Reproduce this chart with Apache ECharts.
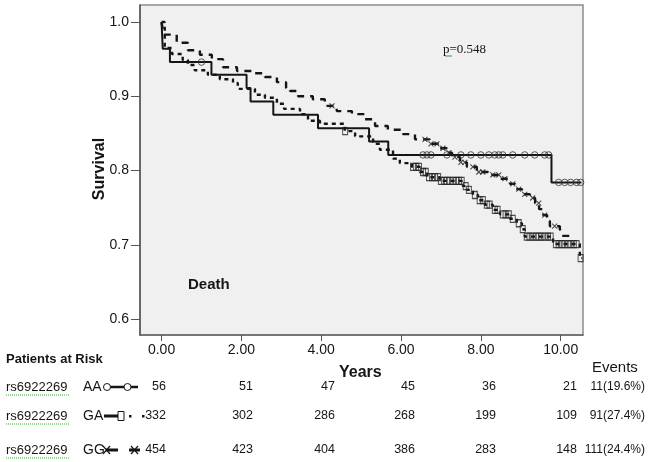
<!DOCTYPE html>
<html>
<head>
<meta charset="utf-8">
<script src="https://cdn.jsdelivr.net/npm/echarts@6/dist/echarts.min.js"></script>
<style>
html,body{margin:0;padding:0;background:#fff;}
#chart{width:653px;height:462px;}
</style>
</head>
<body>
<div id="chart"></div>
<script>
// ---- data ----
const xTicks = [0, 2, 4, 6, 8, 10];
const yTicks = [0.6, 0.7, 0.8, 0.9, 1.0];

// AA (solid, circles) – time of each drop and survival after it
const aaTime = [0, 0.03, 0.21, 1.25, 2.13, 2.23, 2.80, 3.92, 5.20, 5.68, 9.77, 10.52];
const aaSurv = [1, 0.964, 0.946, 0.929, 0.911, 0.893, 0.875, 0.857, 0.839, 0.821, 0.784, 0.784];
const aaCensor = [1.0, 6.55, 6.65, 6.75, 7.15, 7.5, 7.75, 8.0, 8.2, 8.35, 8.45, 8.55, 8.8, 9.1, 9.35, 9.6, 9.7, 9.95, 10.1, 10.25, 10.4, 10.5];

// GA (short dashes, squares)
const gaTime = [0, 0.08, 0.26, 0.53, 0.66, 0.83, 1.16, 1.46, 1.79, 1.91, 2.34, 2.59, 2.89, 3.07, 3.47, 3.67, 3.97, 4.59, 4.85, 5.30, 5.47, 5.80, 5.97, 6.27, 6.47, 6.65, 6.97, 7.55, 7.65, 7.80, 7.93, 8.10, 8.30, 8.48, 8.73, 8.90, 9.03, 9.10, 9.81, 10.48, 10.54];
const gaSurv = [1, 0.965, 0.957, 0.949, 0.942, 0.935, 0.929, 0.923, 0.918, 0.910, 0.902, 0.898, 0.890, 0.883, 0.876, 0.867, 0.863, 0.853, 0.846, 0.836, 0.828, 0.816, 0.810, 0.805, 0.798, 0.791, 0.786, 0.779, 0.774, 0.767, 0.760, 0.754, 0.747, 0.741, 0.735, 0.729, 0.721, 0.711, 0.701, 0.682, 0.682];
const gaCensor = [4.6, 6.3, 6.38, 6.45, 6.55, 6.62, 6.7, 6.78, 6.85, 6.93, 7.0, 7.08, 7.15, 7.22, 7.3, 7.38, 7.45, 7.52, 7.62, 7.7, 7.85, 7.97, 8.05, 8.15, 8.22, 8.35, 8.42, 8.55, 8.62, 8.7, 8.8, 8.95, 9.05, 9.15, 9.22, 9.3, 9.38, 9.45, 9.52, 9.6, 9.68, 9.75, 9.88, 9.95, 10.03, 10.1, 10.18, 10.25, 10.33, 10.4, 10.5];

// GG (long dashes, crosses)
const ggTime = [0, 0.05, 0.38, 0.66, 0.96, 1.26, 1.54, 1.89, 2.26, 2.59, 2.89, 3.12, 3.22, 3.42, 3.79, 4.09, 4.39, 4.77, 5.10, 5.35, 5.67, 6.05, 6.35, 6.72, 6.98, 7.15, 7.28, 7.48, 7.65, 7.90, 8.18, 8.48, 8.73, 8.86, 9.03, 9.23, 9.36, 9.46, 9.56, 9.66, 9.73, 9.98, 10.03, 10.36];
const ggSurv = [1, 0.983, 0.972, 0.962, 0.956, 0.950, 0.939, 0.934, 0.931, 0.926, 0.919, 0.911, 0.907, 0.900, 0.896, 0.887, 0.880, 0.876, 0.869, 0.860, 0.855, 0.849, 0.842, 0.836, 0.830, 0.824, 0.818, 0.811, 0.805, 0.798, 0.794, 0.789, 0.782, 0.775, 0.768, 0.763, 0.756, 0.748, 0.740, 0.732, 0.725, 0.721, 0.712, 0.712];
const ggCensor = [4.27, 6.6, 6.75, 6.9, 7.05, 7.2, 7.35, 7.5, 7.6, 7.8, 7.95, 8.05, 8.3, 8.45, 8.6, 8.8, 8.95, 9.1, 9.3, 9.45, 9.6, 9.85];

const riskAA = [56, 51, 47, 45, 36, 21];
const riskGA = [332, 302, 286, 268, 199, 109];
const riskGG = [454, 423, 404, 386, 283, 148];
const events = ['11(19.6%)', '91(27.4%)', '111(24.4%)'];
const rowLabels = ['AA', 'GA', 'GG'];
const snpLabel = 'rs6922269';
const pText = 'p=0.548';

// ---- helpers ----
function pairs(t, s) { return t.map((v, i) => [v, s[i]]); }
function survAt(t, s, x) {
  let v = s[0];
  for (let i = 0; i < t.length; i++) { if (t[i] <= x) v = s[i]; }
  return v;
}
function censorPts(c, t, s) { return c.map(x => [x, survAt(t, s, x)]); }

const chart = echarts.init(document.getElementById('chart'));
const SANS = '"Liberation Sans", Arial, sans-serif';
const INK = '#151515';
const crossPath = 'path://M0,0L10,10M10,0L0,10';

const rowY = [387, 416, 450];
const colRight = [166, 253, 335, 415, 496, 577];
const risks = [riskAA, riskGA, riskGG];

const graphics = [];
// Plot texts
graphics.push({type: 'text', style: {x: 188, y: 285, text: 'Death', font: 'bold 15px ' + SANS, fill: INK, textVerticalAlign: 'middle'}});
graphics.push({type: 'text', style: {x: 443, y: 50, text: pText, font: '13px "Liberation Serif", "Times New Roman", serif', fill: INK, textVerticalAlign: 'middle'}});
graphics.push({type: 'line', shape: {x1: 445, y1: 56, x2: 452, y2: 56}, style: {stroke: '#3a9a3a', lineWidth: 1}});
graphics.push({type: 'text', style: {x: 6, y: 359, text: 'Patients at Risk', font: 'bold 13px ' + SANS, fill: INK, textVerticalAlign: 'middle'}});
graphics.push({type: 'text', style: {x: 592, y: 368, text: 'Events', font: '15px ' + SANS, fill: INK, textVerticalAlign: 'middle'}});
graphics.push({type: 'text', style: {x: 339, y: 373, text: 'Years', font: 'bold 16px ' + SANS, fill: INK, textVerticalAlign: 'middle'}});
graphics.push({type: 'text', rotation: Math.PI / 2, x: 100, y: 169, style: {x: 0, y: 0, text: 'Survival', font: 'bold 16px ' + SANS, fill: INK, textAlign: 'center', textVerticalAlign: 'middle'}});

for (let r = 0; r < 3; r++) {
  const y = rowY[r];
  graphics.push({type: 'text', style: {x: 6, y: y, text: snpLabel, font: '13px ' + SANS, fill: INK, textVerticalAlign: 'middle'}});
  graphics.push({type: 'line', shape: {x1: 6, y1: y + 8, x2: 69, y2: y + 8}, style: {stroke: '#3aaa3a', lineWidth: 1, lineDash: [1, 1]}});
  graphics.push({type: 'text', style: {x: 83, y: y, text: rowLabels[r], font: '14px ' + SANS, fill: INK, textVerticalAlign: 'middle'}});
  for (let c = 0; c < 6; c++) {
    graphics.push({type: 'text', style: {x: colRight[c], y: y, text: String(risks[r][c]), font: '12.5px ' + SANS, fill: INK, textAlign: 'right', textVerticalAlign: 'middle'}});
  }
  graphics.push({type: 'text', style: {x: 645, y: y, text: events[r], font: '12px ' + SANS, fill: INK, textAlign: 'right', textVerticalAlign: 'middle'}});
}
// legend glyphs in risk table
// AA: O—O-
graphics.push({type: 'line', shape: {x1: 110, y1: 387, x2: 124, y2: 387}, style: {stroke: INK, lineWidth: 2.5}});
graphics.push({type: 'line', shape: {x1: 131, y1: 387, x2: 138, y2: 387}, style: {stroke: INK, lineWidth: 2.5}});
graphics.push({type: 'circle', shape: {cx: 107, cy: 387, r: 3.5}, style: {fill: '#fff', stroke: INK, lineWidth: 1}});
graphics.push({type: 'circle', shape: {cx: 127.5, cy: 387, r: 3.5}, style: {fill: '#fff', stroke: INK, lineWidth: 1}});
// GA: —□· ·
graphics.push({type: 'line', shape: {x1: 104, y1: 416, x2: 118, y2: 416}, style: {stroke: INK, lineWidth: 3}});
graphics.push({type: 'rect', shape: {x: 118, y: 411.5, width: 6, height: 9}, style: {fill: '#fff', stroke: INK, lineWidth: 1}});
graphics.push({type: 'rect', shape: {x: 129, y: 415, width: 2.5, height: 2.5}, style: {fill: INK}});
graphics.push({type: 'rect', shape: {x: 142, y: 415, width: 2.5, height: 2.5}, style: {fill: INK}});
// GG: ✕—  ✕—
graphics.push({type: 'line', shape: {x1: 106, y1: 450, x2: 118, y2: 450}, style: {stroke: INK, lineWidth: 3}});
graphics.push({type: 'line', shape: {x1: 103, y1: 446, x2: 110, y2: 454}, style: {stroke: INK, lineWidth: 1.2}});
graphics.push({type: 'line', shape: {x1: 103, y1: 454, x2: 110, y2: 446}, style: {stroke: INK, lineWidth: 1.2}});
graphics.push({type: 'line', shape: {x1: 129, y1: 450, x2: 140, y2: 450}, style: {stroke: INK, lineWidth: 3}});
graphics.push({type: 'line', shape: {x1: 131, y1: 446, x2: 138, y2: 454}, style: {stroke: INK, lineWidth: 1.2}});
graphics.push({type: 'line', shape: {x1: 131, y1: 454, x2: 138, y2: 446}, style: {stroke: INK, lineWidth: 1.2}});

const option = {
  animation: false,
  backgroundColor: '#ffffff',
  grid: {left: 140, top: 5, width: 443, height: 330, show: true, backgroundColor: '#f0f0f0', borderColor: '#8c8c8c', borderWidth: 1.5},
  xAxis: {
    type: 'value', min: -0.54, max: 10.56,
    splitLine: {show: false},
    axisLine: {show: true, onZero: false, lineStyle: {color: '#666', width: 1.5}},
    axisTick: {show: true, length: 6, customValues: xTicks, lineStyle: {color: '#555'}},
    axisLabel: {customValues: xTicks, formatter: v => v.toFixed(2), color: INK, fontSize: 14, fontFamily: SANS, margin: 8}
  },
  yAxis: {
    type: 'value', min: 0.5785, max: 1.0229,
    splitLine: {show: false},
    axisLine: {show: true, onZero: false, lineStyle: {color: '#555', width: 1.5}},
    axisTick: {show: true, length: 9, customValues: yTicks, lineStyle: {color: '#555'}},
    axisLabel: {customValues: yTicks, formatter: v => v.toFixed(1), color: INK, fontSize: 14, fontFamily: SANS, margin: 11}
  },
  series: [
    {type: 'line', step: 'end', data: pairs(gaTime, gaSurv), showSymbol: false, lineStyle: {color: INK, width: 2.4, type: [4, 4]}, z: 2},
    {type: 'line', step: 'end', data: pairs(ggTime, ggSurv), showSymbol: false, lineStyle: {color: INK, width: 2.4, type: [7, 6]}, z: 2},
    {type: 'line', step: 'end', data: pairs(aaTime, aaSurv), showSymbol: false, lineStyle: {color: INK, width: 2}, z: 3},
    {type: 'scatter', data: censorPts(aaCensor, aaTime, aaSurv), symbol: 'circle', symbolSize: 6.5, itemStyle: {color: 'rgba(0,0,0,0)', borderColor: '#333', borderWidth: 1}, z: 4},
    {type: 'scatter', data: censorPts(gaCensor, gaTime, gaSurv), symbol: 'rect', symbolSize: [5, 7], itemStyle: {color: 'rgba(0,0,0,0)', borderColor: '#222', borderWidth: 1.1}, z: 4},
    {type: 'scatter', data: censorPts(ggCensor, ggTime, ggSurv), symbol: crossPath, symbolSize: 5, itemStyle: {color: 'rgba(0,0,0,0)', borderColor: '#222', borderWidth: 1.1}, z: 4}
  ],
  graphic: graphics
};
chart.setOption(option);
</script>
</body>
</html>
